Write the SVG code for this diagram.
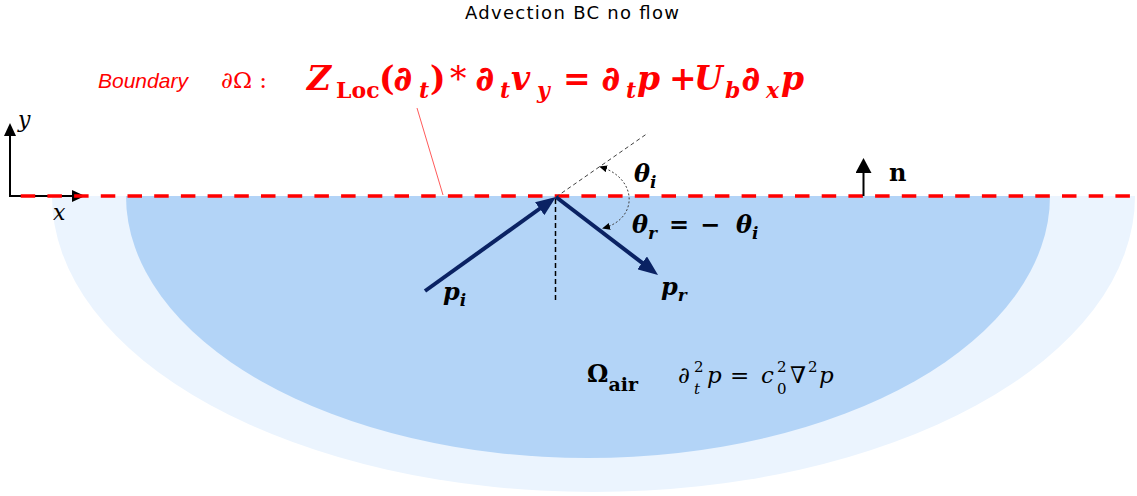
<svg xmlns="http://www.w3.org/2000/svg" width="1137" height="496" viewBox="0 0 1137 496">
<style>
.title{font-family:"DejaVu Sans",sans-serif;font-size:18px;fill:#000}
.m{font-family:"DejaVu Serif",serif}
.eq{font-size:33px;font-weight:bold;font-style:italic;fill:#FF0000}
.eqs{font-size:22px}
.dd{stroke:#FF0000;stroke-width:1}
.bnd{font-family:"Liberation Sans",sans-serif;font-size:21px;font-style:italic;fill:#FF0000}
.bm{font-size:23px;fill:#FF0000}
.lab{font-size:24px;font-weight:bold;font-style:italic;fill:#000}
.labs{font-size:17px}
.ax{font-size:22px;font-style:italic;fill:#000}
.wave{font-size:23px;font-style:italic;fill:#000}
.ws{font-size:15px}
.up{font-style:normal}
.nb{font-weight:normal}
.navy{stroke:#0A2263;stroke-width:4;fill:none}
.blk{stroke:#000;stroke-width:2;fill:none}
</style>
<defs>
<marker id="navyHead" markerUnits="userSpaceOnUse" viewBox="0 0 20 16" refX="8" refY="8" markerWidth="20" markerHeight="16" orient="auto">
<path d="M0,0 L20,8 L0,16 Z" fill="#0A2263"/>
</marker>
<marker id="blkHead" markerUnits="userSpaceOnUse" viewBox="0 0 13 12" refX="7" refY="6" markerWidth="13" markerHeight="12" orient="auto">
<path d="M0,0 L13,6 L0,12 Z" fill="#000"/>
</marker>
<marker id="nHead" markerUnits="userSpaceOnUse" viewBox="0 0 15 16" refX="8" refY="8" markerWidth="15" markerHeight="16" orient="auto">
<path d="M0,0 L15,8 L0,16 Z" fill="#000"/>
</marker>
<marker id="smallHead" markerUnits="userSpaceOnUse" viewBox="0 0 8 7" refX="6" refY="3.5" markerWidth="8" markerHeight="7" orient="auto-start-reverse">
<path d="M0,0 L8,3.5 L0,7 Z" fill="#000"/>
</marker>
</defs>

<text class="title" x="572" y="19" text-anchor="middle" textLength="214" lengthAdjust="spacing">Advection BC no flow</text>

<g id="domain-outer"><path d="M52,196 A541.5,296 0 0 0 1135,196 Z" fill="#EBF4FE"/></g>
<g id="domain-inner"><path d="M126,196 A462,262 0 0 0 1050,196 Z" fill="#B3D4F7"/></g>

<g id="axes">
<line class="blk" x1="10" y1="197" x2="10" y2="129" marker-end="url(#blkHead)"/>
<line class="blk" x1="9" y1="196" x2="79" y2="196" marker-end="url(#blkHead)"/>
<text class="m ax" x="18" y="127">y</text>
<text class="m ax" x="53" y="220">x</text>
</g>

<g id="boundary">
<line x1="20.7" y1="196" x2="1137" y2="196" stroke="#FF0000" stroke-width="3.6" stroke-dasharray="14.5 12.2"/>
<line x1="417" y1="108" x2="443" y2="195" stroke="#FF3030" stroke-width="0.8"/>
</g>

<g id="bc-label">
<text class="bnd" x="98" y="88">Boundary</text>
<text class="m bm" x="221" y="88">∂Ω :</text>
<text class="m eq" y="89.5"><tspan x="307">Z</tspan><tspan class="eqs up" x="336" y="98">Loc</tspan><tspan class="up" x="379" y="89.5">(</tspan><tspan class="dd" x="394">∂</tspan><tspan class="eqs" x="419" y="98">t</tspan><tspan class="up" x="430" y="89.5">)</tspan><tspan class="up nb" x="450">*</tspan><tspan class="dd" x="476">∂</tspan><tspan class="eqs" x="500" y="98">t</tspan><tspan x="511" y="89.5">v</tspan><tspan class="eqs" x="537" y="98">y</tspan><tspan class="up" x="563" y="89.5">=</tspan><tspan class="dd" x="602">∂</tspan><tspan class="eqs" x="626" y="98">t</tspan><tspan x="637" y="89.5">p</tspan><tspan class="up" x="669">+</tspan><tspan x="694">U</tspan><tspan class="eqs" x="725" y="98">b</tspan><tspan class="dd" x="742" y="89.5">∂</tspan><tspan class="eqs" x="766" y="98">x</tspan><tspan x="781" y="89.5">p</tspan></text>
</g>

<g id="connectors">
<line x1="556" y1="197" x2="648" y2="133" stroke="#404040" stroke-width="1" stroke-dasharray="4 3"/>
<line x1="555.5" y1="199" x2="555.5" y2="302" stroke="#000" stroke-width="1.5" stroke-dasharray="5 3"/>
<path d="M601,167 C637,178 639,218 604,228" fill="none" stroke="#404040" stroke-width="1" stroke-dasharray="2 2" marker-start="url(#smallHead)" marker-end="url(#smallHead)"/>
<line class="navy" x1="425" y1="291" x2="546.2" y2="204" marker-end="url(#navyHead)"/>
<line class="navy" x1="556" y1="197" x2="648.5" y2="267.7" marker-end="url(#navyHead)"/>
<line class="blk" x1="863.5" y1="196" x2="863.5" y2="165" marker-end="url(#nHead)"/>
</g>

<g id="labels">
<text class="m lab" x="634" y="182">θ<tspan class="labs" dy="6">i</tspan></text>
<text class="m lab" x="632" y="233">θ<tspan class="labs" dy="6">r</tspan><tspan dy="-6" x="669" class="up">=</tspan><tspan x="700" class="up">−</tspan><tspan x="736">θ</tspan><tspan class="labs" dy="6">i</tspan></text>
<text class="m lab" x="443" y="300">p<tspan class="labs" dy="6">i</tspan></text>
<text class="m lab" x="661" y="295">p<tspan class="labs" dy="6">r</tspan></text>
<text class="m lab up" x="889" y="181">n</text>
</g>

<g id="air-label">
<text class="m lab up" x="587" y="382">Ω<tspan style="font-size:19px" dy="9">air</tspan></text>
<text class="m wave" y="383"><tspan x="678">∂</tspan><tspan class="ws up" x="694" y="372">2</tspan><tspan class="ws" x="694" y="394">t</tspan><tspan x="707" y="383">p</tspan><tspan class="up" x="730">=</tspan><tspan x="761">c</tspan><tspan class="ws up" x="777" y="372">2</tspan><tspan class="ws up" x="777" y="394">0</tspan><tspan class="up" x="790" y="383">∇</tspan><tspan class="ws up" x="808" y="372">2</tspan><tspan x="819" y="383">p</tspan></text>
</g>
</svg>
